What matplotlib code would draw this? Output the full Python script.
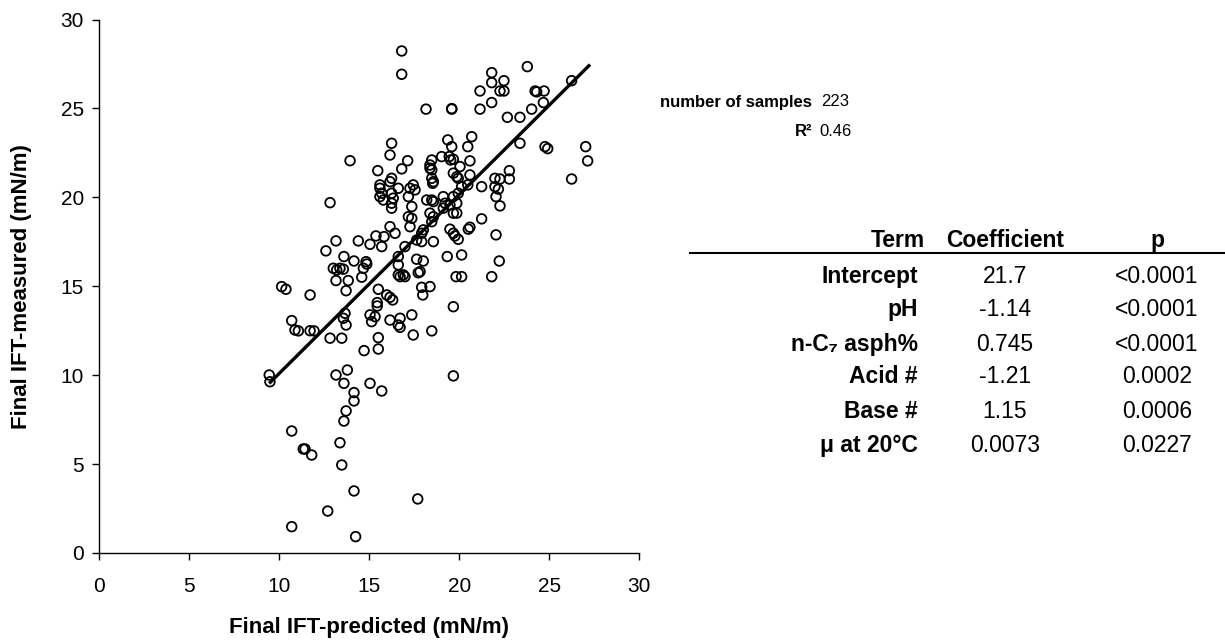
import matplotlib
matplotlib.use("Agg")
import matplotlib.pyplot as plt

plt.rcParams['font.family'] = ['Liberation Sans', 'DejaVu Sans']

# values (predicted vs measured final IFT, mN/m)
predicted = [23.78, 21.80, 21.80, 22.48, 21.15, 22.26, 22.48, 21.80, 21.15, 18.15, 19.58, 19.58, 24.21, 24.30,
             24.71, 26.24, 24.67, 24.02, 22.67, 23.37, 20.69, 19.36, 19.58, 20.47, 23.37, 24.76, 24.91, 27.02,
             27.13, 26.24, 19.02, 19.44, 19.52, 19.67, 18.47, 18.37, 18.37, 18.47, 20.04, 20.59, 19.67, 19.86,
             19.94, 20.59, 18.47, 18.56, 18.52, 21.24, 21.98, 22.26, 22.78, 22.78, 21.98, 22.17, 22.04, 22.26,
             20.13, 19.94, 19.67, 18.47, 18.56, 19.11, 19.21, 19.48, 19.86, 20.47,
             21.24, 20.50, 20.59, 22.04, 19.48, 19.67, 19.76, 19.94, 18.56, 17.91, 19.33, 20.13, 22.22, 18.00,
             17.82, 19.82, 20.13, 21.80, 18.37, 17.91, 17.97, 19.67, 18.47, 19.67,
             9.44, 9.48, 13.15, 13.78, 13.59, 15.04, 15.69, 14.15, 14.15, 13.71, 13.59, 10.69, 13.37, 11.33,
             11.43, 11.80, 13.47, 14.15, 17.69, 12.69, 10.69, 14.24,
             16.80, 16.80, 16.24, 16.15, 13.93, 17.13, 15.47, 16.80, 16.24, 16.15, 15.59, 15.59, 15.69, 15.59,
             15.78, 16.24, 16.33, 16.24, 16.61, 17.26, 17.44, 17.17, 17.36, 12.82,
             17.17, 17.36, 18.37, 18.56, 18.47, 16.15, 16.43, 17.26, 17.91, 15.37, 15.82, 14.39, 15.04, 15.69,
             13.15, 12.59, 13.59, 14.15, 14.82, 14.86, 16.61, 16.61, 17.63, 13.00, 13.19, 13.37, 13.56, 14.67,
             14.58, 13.15, 13.83, 13.71, 16.61, 16.71, 16.89, 16.98, 17.72, 10.13, 10.37, 11.71, 15.50, 15.97,
             16.15, 16.30, 15.44, 15.44, 13.65, 13.56, 13.71, 15.04, 15.32, 15.13, 16.15, 16.71, 16.61, 16.71,
             17.36, 17.44, 10.69, 10.87, 11.06, 11.71, 11.93, 12.82, 13.47, 15.50, 15.50, 14.71,
             16.24, 17.54, 17.63, 16.98, 18.19, 19.11, 19.67, 19.86, 18.00]
measured = [27.35, 27.01, 26.45, 26.56, 25.98, 25.98, 25.98, 25.33, 24.96, 24.96, 24.96, 24.99, 25.98, 25.93,
            25.98, 26.56, 25.33, 24.96, 24.50, 24.50, 23.41, 23.23, 22.85, 22.85, 23.04, 22.85, 22.74, 22.85,
            22.05, 21.03, 22.29, 22.29, 22.10, 22.14, 22.10, 21.82, 21.64, 21.54, 21.73, 22.05, 21.36, 21.16,
            21.07, 21.26, 21.07, 20.88, 20.79, 20.60, 21.07, 21.03, 21.50, 21.03, 20.60, 20.46, 20.04, 19.52,
            20.60, 20.23, 20.04, 19.85, 19.76, 20.04, 19.67, 19.57, 19.67, 20.70,
            18.79, 18.21, 18.32, 17.89, 18.21, 17.98, 17.83, 17.64, 17.51, 17.51, 16.67, 16.76, 16.42, 16.42,
            15.82, 15.54, 15.54, 15.54, 14.98, 14.94, 14.51, 13.85, 12.49, 9.96,
            10.01, 9.63, 10.01, 10.29, 9.54, 9.54, 9.11, 9.02, 8.55, 7.99, 7.42, 6.86, 6.20, 5.85,
            5.85, 5.51, 4.95, 3.49, 3.04, 2.36, 1.48, 0.92,
            28.23, 26.92, 23.04, 22.38, 22.06, 22.06, 21.50, 21.60, 21.07, 20.88, 20.70, 20.51, 20.23, 20.04,
            19.85, 20.23, 19.95, 19.67, 20.51, 20.51, 20.70, 20.04, 19.48, 19.70,
            18.91, 18.82, 19.11, 18.91, 18.63, 18.35, 17.98, 18.35, 17.98, 17.83, 17.79, 17.55, 17.36, 17.23,
            17.55, 16.99, 16.67, 16.42, 16.38, 16.25, 16.67, 16.20, 16.52, 16.01, 15.92, 16.01, 15.96, 16.01,
            15.51, 15.32, 15.32, 14.75, 15.64, 15.54, 15.64, 15.54, 15.76, 14.98, 14.83, 14.51, 14.83, 14.51,
            14.38, 14.23, 14.08, 13.89, 13.48, 13.20, 12.82, 13.39, 13.29, 13.01, 13.10, 13.20, 12.82, 12.69,
            13.39, 12.26, 13.07, 12.54, 12.49, 12.50, 12.49, 12.08, 12.08, 12.11, 11.47, 11.38,
            19.39, 20.42, 17.60, 17.23, 19.85, 19.39, 19.11, 19.11, 18.17]

# fitted line end points
fit_x = [9.5, 27.2]
fit_y = [9.6, 27.4]

ticks = [0, 5, 10, 15, 20, 25, 30]

# summary table
n_samples = "223"
r_squared = "0.46"
terms = ["Intercept", "pH", "n-C\u2087 asph%", "Acid #", "Base #", "\u03bc at 20\u00b0C"]
coefs = ["21.7", "-1.14", "0.745", "-1.21", "1.15", "0.0073"]
pvals = ["<0.0001", "<0.0001", "<0.0001", "0.0002", "0.0006", "0.0227"]

W, H = 1225, 640
fig = plt.figure(figsize=(W / 100, H / 100), dpi=100)
ax = fig.add_axes([99.3 / W, 1 - 553 / H, 540 / W, (553 - 19.5) / H])

ax.scatter(predicted, measured, s=48, facecolors='none', edgecolors='black', linewidths=1.3, zorder=3)
ax.plot(fit_x, fit_y, color='black', linewidth=2.4, zorder=4)

ax.set_xlim(0, 30)
ax.set_ylim(0, 30)
ax.set_xticks(ticks)
ax.set_yticks(ticks)
ax.tick_params(direction='out', length=5, width=1, labelsize=15)
ax.tick_params(axis='x', pad=12)
ax.tick_params(axis='y', pad=6)
for s in ['top', 'right']:
    ax.spines[s].set_visible(False)
for s in ['left', 'bottom']:
    ax.spines[s].set_linewidth(1)

ax.set_xlabel("Final IFT-predicted (mN/m)", fontsize=16, fontweight='bold')
ax.set_ylabel("Final IFT-measured (mN/m)", fontsize=16, fontweight='bold')
ax.xaxis.set_label_coords(0.5, (553 - 627) / 533.5)
ax.xaxis.label.set_va('center')
ax.yaxis.set_label_coords((22 - 99.3) / 540, 0.5)
ax.yaxis.label.set_va('center')


def put(x, y, s, ha, size, bold=False, va='baseline'):
    fig.text(x / W, 1 - y / H, s, ha=ha, va=va, fontsize=size,
             fontweight='bold' if bold else 'normal')


put(812, 102, "number of samples", 'right', 12, True, 'center')
put(835, 102, n_samples, 'center', 12, va='center')
put(812, 131, "R\u00b2", 'right', 12, True, 'center')
put(835, 131, r_squared, 'center', 12, va='center')

put(925, 247, "Term", 'right', 16.5, True)
put(1005, 247, "Coefficient", 'center', 16.5, True)
put(1157, 247, "p", 'center', 16.5, True)
fig.add_artist(plt.Line2D([690 / W, 1225 / W], [1 - 252.5 / H, 1 - 252.5 / H], color='black', linewidth=1.5))

row_y = [283, 316, 351, 383, 418, 452]
for yy, t, c, p in zip(row_y, terms, coefs, pvals):
    put(918, yy, t, 'right', 16.5, True)
    put(1005, yy, c, 'center', 16.5)
    put(1157, yy, p, 'center', 16.5)

fig.savefig("out.png", dpi=100)
